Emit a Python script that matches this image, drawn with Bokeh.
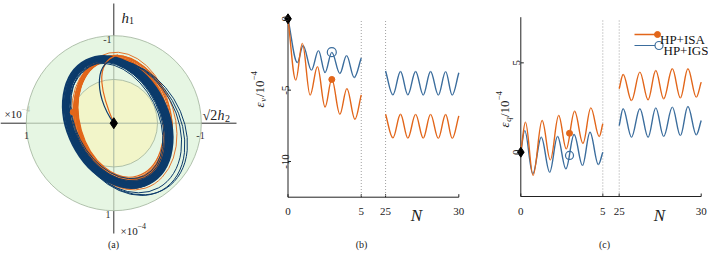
import numpy as np
from bokeh.plotting import figure
from bokeh.layouts import row
from bokeh.models import Label, Range1d
from bokeh.embed import file_html
from bokeh.resources import INLINE

FONT = "Liberation Serif"
ORANGE = "#e2661a"
BLUE = "#3b6d9d"
NAVY = "#0c3b6b"
OUTER_FILL = "#e6f6e3"
INNER_FILL = "#f2f5c9"
RING_LINE = "#9fb39b"
INK = "#222222"

# ---------------- panel (a): trajectories in (sqrt2 h2, h1) plane, units 1e-4 ----------------
ring_radii = [1.0, 0.5]
# HP+IGS loops (navy): centre, semi-axes, tilt (deg)
igs_cx = [0.04, 0.04, 0.045, 0.04, 0.045, 0.04, 0.045, 0.05, 0.045, 0.035, 0.04, 0.12, 0.14, 0.16]
igs_cy = [0.02, 0.02, 0.015, 0.02, 0.015, 0.02, 0.015, 0.01, 0.015, 0.025, 0.02, -0.03, -0.045, -0.05]
igs_a = [0.73, 0.74, 0.745, 0.75, 0.76, 0.765, 0.77, 0.78, 0.79, 0.70, 0.715, 0.81, 0.83, 0.82]
igs_b = [0.50, 0.51, 0.515, 0.52, 0.53, 0.54, 0.55, 0.56, 0.575, 0.47, 0.485, 0.60, 0.61, 0.62]
igs_ang = [-63, -64, -63, -64, -63, -64, -63, -64, -63, -63, -64, -61, -60, -58]
igs_lw = [2.2, 2.2, 2.2, 2.2, 2.2, 2.2, 2.2, 2.2, 2.2, 1.0, 1.0, 1.0, 1.0, 1.0]
# HP+ISA loops (orange)
isa_cx = [0.08, 0.085, 0.09, 0.085, 0.09, 0.095, 0.09, 0.095, 0.10, 0.09, 0.10, 0.105, 0.11, 0.12]
isa_cy = [0.05, 0.045, 0.04, 0.045, 0.04, 0.035, 0.04, 0.035, 0.03, 0.04, 0.03, 0.025, 0.03, 0.0]
isa_a = [0.68, 0.69, 0.70, 0.705, 0.71, 0.715, 0.72, 0.725, 0.73, 0.74, 0.75, 0.76, 0.79, 0.78]
isa_b = [0.47, 0.48, 0.49, 0.495, 0.50, 0.505, 0.51, 0.515, 0.52, 0.53, 0.54, 0.55, 0.55, 0.58]
isa_ang = [-74, -74, -75, -75, -75, -76, -75, -76, -75, -76, -77, -76, -78, -72]
isa_lw = [1.2, 1.2, 1.2, 1.2, 1.2, 1.2, 1.2, 1.2, 1.2, 1.2, 1.2, 1.1, 0.9, 0.9]
# initial transients from the origin: start, control 1, control 2, end
igs_start = [(0.0, 0.0), (-0.25, 0.35), (-0.20, 0.75), (0.04, 0.72)]
isa_start = [(0.0, 0.0), (-0.12, 0.28), (-0.26, 0.70), (0.05, 0.78)]
isa_mark_a = (-0.464, 0.126)

# ---------------- panel (b): eps_v / 1e-4 ----------------
b_isa_N1 = [0, 0.53, 0.98, 1.51, 2.01, 2.53, 2.99, 3.54, 4.02, 4.57, 5.0]
b_isa_E1 = [0, -4.30, -1.72, -5.35, -3.36, -6.18, -4.23, -6.69, -4.89, -7.04, -5.33]
b_igs_N1 = [0, 0.64, 1.03, 1.60, 2.08, 2.53, 2.99, 3.54, 4.00, 4.52, 5.0]
b_igs_E1 = [0, -3.06, -1.88, -3.60, -2.23, -3.76, -2.35, -3.83, -2.58, -4.11, -2.75]
b_N2 = [25, 25.50, 26.02, 26.52, 27.05, 27.57, 28.07, 28.60, 29.10, 29.55, 30]
b_isa_E2 = [-6.69, -8.34, -6.69, -8.36, -6.70, -8.36, -6.70, -8.38, -6.71, -8.38, -6.80]
b_igs_E2 = [-3.66, -5.33, -3.69, -5.33, -3.69, -5.34, -3.69, -5.34, -3.70, -5.34, -3.78]
b_marks = {"isa": (2.99, -4.25), "igs": (2.99, -2.34)}
b_yticks = [0, -5, -10]
b_xticks = [0, 5, 25, 30]

# ---------------- panel (c): eps_q / 1e-4 ----------------
c_isa_N1 = [0, 0.285, 0.75, 1.30, 1.80, 2.31, 2.77, 3.28, 3.79, 4.27, 4.78, 5.0]
c_isa_E1 = [0, 1.68, -1.30, 1.77, -0.43, 2.05, 0.19, 2.29, 0.50, 2.48, 0.88, 1.59]
c_igs_N1 = [0, 0.24, 0.73, 1.25, 1.76, 2.24, 2.75, 3.25, 3.76, 4.22, 4.73, 5.0]
c_igs_E1 = [0, 1.21, -1.21, 0.84, -1.12, 0.88, -0.93, 0.99, -0.74, 1.12, -0.69, 0.0]
c_N2 = [25, 25.24, 25.75, 26.26, 26.76, 27.23, 27.71, 28.24, 28.73, 29.19, 29.70, 30]
c_isa_E2 = [3.55, 4.35, 2.89, 4.48, 2.93, 4.57, 2.99, 4.67, 3.04, 4.67, 3.08, 3.92]
c_igs_E2 = [1.49, 2.43, 0.84, 2.43, 0.84, 2.48, 0.88, 2.52, 0.93, 2.56, 0.97, 1.77]
c_marks = {"isa": (2.97, 1.06), "igs": (2.97, -0.18)}
c_yticks = [0, 5]
c_xticks = [0, 5, 25, 30]

GAP_B = 1.66
GAP_C = 1.0


def brk(N, gap):
    N = np.asarray(N, dtype=float)
    return np.where(N <= 5, N, N - 25 + 5 + gap)


def wave(p, xs, ys, color, lw=1.4):
    x = np.asarray(xs, float)
    y = np.asarray(ys, float)
    x0, y0, x1, y1 = x[:-1], y[:-1], x[1:], y[1:]
    dx = x1 - x0
    k = 0.363
    cx0, cx1 = x0 + k * dx, x1 - k * dx
    cy0, cy1 = y0.copy(), y1.copy()
    cy0[0] = y0[0] + k * (y1[0] - y0[0])
    cy1[-1] = y1[-1] - k * (y1[-1] - y0[-1])
    p.bezier(x0=x0, y0=y0, x1=x1, y1=y1, cx0=cx0, cy0=cy0, cx1=cx1, cy1=cy1,
             line_color=color, line_width=lw)


def place(p, conv, gx, gy, text, size, italic=False, color=INK, angle=0.0, align="left"):
    x, y = conv(gx, gy)
    p.add_layout(Label(x=x, y=y, text=text, text_font=FONT, text_font_size=f"{size}px",
                       text_font_style="italic" if italic else "normal", text_color=color,
                       angle=angle, text_align=align, text_baseline="alphabetic"))


def hlabel(p, conv, gx, gy, parts):
    for text, size, dy, italic, adv, color in parts:
        place(p, conv, gx, gy + dy, text, size, italic, color)
        gx += adv


def vlabel(p, conv, gx, gy, parts):
    for text, size, dx, italic, adv in parts:
        place(p, conv, gx + dx, gy, text, size, italic, angle=np.pi / 2)
        gy -= adv


def canvas(conv, gx0, gx1):
    xa, ya = conv(gx0, 253)
    xb, yb = conv(gx1, 0)
    p = figure(width=int(round(gx1 - gx0)), height=253, x_range=Range1d(xa, xb),
               y_range=Range1d(ya, yb), output_backend="svg", toolbar_location=None,
               x_axis_type=None, y_axis_type=None, min_border=0, frame_align=False,
               background_fill_color="white", border_fill_color="white")
    p.grid.visible = False
    p.outline_line_color = None
    return p


# ======================= panel (a) =======================
CXA, CYA, SA = 113.3, 122.7, 87.5


def conv_a(gx, gy):
    return (gx - CXA) / SA, (CYA - gy) / SA


pa = canvas(conv_a, 0, 240)
_, vt = conv_a(CXA, 3)
_, vb = conv_a(CXA, 233)
hl, _ = conv_a(0, CYA)
hr, _ = conv_a(236, CYA)
pa.segment(x0=[0, hl], y0=[vt, 0], x1=[0, hr], y1=[vb, 0], line_color="#2b2b2b", line_width=1)
R = ring_radii[0]
pa.circle(x=[0, 0], y=[0, 0], radius=ring_radii, fill_color=[OUTER_FILL, INNER_FILL],
          line_color=RING_LINE, line_width=0.8)
pa.segment(x0=[0, -R], y0=[R, 0], x1=[0, R], y1=[-R, 0], line_color="#a5b6a1", line_width=1)

pa.ellipse(x=isa_cx, y=isa_cy, width=[2 * v for v in isa_a], height=[2 * v for v in isa_b],
           angle=[np.deg2rad(v) for v in isa_ang], fill_color=None, line_color=ORANGE,
           line_width=isa_lw)
pa.ellipse(x=igs_cx, y=igs_cy, width=[2 * v for v in igs_a], height=[2 * v for v in igs_b],
           angle=[np.deg2rad(v) for v in igs_ang], fill_color=None, line_color=NAVY,
           line_width=igs_lw)
for pts, col in ((isa_start, ORANGE), (igs_start, NAVY)):
    (x0, y0), (c0x, c0y), (c1x, c1y), (x1, y1) = pts
    pa.bezier(x0=[x0], y0=[y0], x1=[x1], y1=[y1], cx0=[c0x], cy0=[c0y], cx1=[c1x], cy1=[c1y],
              line_color=col, line_width=1.2)
pa.scatter(x=[isa_mark_a[0]], y=[isa_mark_a[1]], size=6, marker="circle", fill_color=ORANGE,
           line_color=ORANGE)
pa.scatter(x=[0], y=[0], size=11, marker="diamond", fill_color="black", line_color="black")

hlabel(pa, conv_a, 121, 17, [("h", 15, 0, True, 7.5, INK), ("1", 10, 3, False, 5, INK)])
hlabel(pa, conv_a, 202, 115, [("√2", 14, 0, False, 15, INK), ("h", 14, 0, True, 7.5, INK),
                               ("2", 10, 3, False, 5, INK)])
hlabel(pa, conv_a, 4, 113, [("×10", 11, 0, False, 17, INK), ("−4", 8, -5, False, 8, "#b4c2b1")])
hlabel(pa, conv_a, 120, 230, [("×10", 11, 0, False, 17, INK), ("−4", 8, -5, False, 8, INK)])
place(pa, conv_a, 111, 39, "-1", 10, color="#333", align="right")
place(pa, conv_a, 110, 214, "1", 10, color="#333", align="right")
place(pa, conv_a, 26, 135, "1", 10, color="#333", align="center")
place(pa, conv_a, 200, 135, "-1", 10, color="#333", align="center")
place(pa, conv_a, 113, 244, "(a)", 10, align="center")


def axes(p, conv, sx, sy, gtop, gbot, xpos, xlabels, yticks, ylab_gx):
    _, ytop = conv(0, gtop)
    _, ybot = conv(0, gbot)
    xend = float(np.max(xpos))
    p.segment(x0=[0, 0], y0=[ytop, ybot], x1=[0, xend], y1=[ybot, ybot],
              line_color=INK, line_width=1)
    p.segment(x0=[0] * len(yticks), y0=yticks, x1=[3 / sx] * len(yticks), y1=yticks,
              line_color=INK, line_width=1)
    p.segment(x0=xpos, y0=[ybot] * len(xpos), x1=xpos, y1=[ybot + 3 / sy] * len(xpos),
              line_color=INK, line_width=1)
    _, ylab = conv(0, 210.5)
    for xp, t in zip(xpos, xlabels):
        p.add_layout(Label(x=xp, y=ylab, text=t, text_font=FONT, text_font_size="11px",
                           text_color=INK, text_align="center", text_baseline="alphabetic"))
    xl, _ = conv(ylab_gx, 0)
    for t in yticks:
        p.add_layout(Label(x=xl, y=t, text=str(t), text_font=FONT, text_font_size="11px",
                           text_color=INK, text_align="center", text_baseline="alphabetic",
                           angle=np.pi / 2))
    return ybot


def dotted(p, conv, xs, gtop, ybot):
    _, yt = conv(0, gtop)
    p.segment(x0=xs, x1=xs, y0=[yt] * len(xs), y1=[ybot] * len(xs),
              line_color="#a0a0a0", line_width=1, line_dash="1 2")


# ======================= panel (b) =======================
X0B, SXB, Y0B, SYB = 287.5, 14.65, 18.3, 14.27


def conv_b(gx, gy):
    return (gx - X0B) / SXB, (Y0B - gy) / SYB


pb = canvas(conv_b, 240, 470)
ybot_b = axes(pb, conv_b, SXB, SYB, 15, 196.7, brk(b_xticks, GAP_B), [str(v) for v in b_xticks],
              b_yticks, 284.5)
dotted(pb, conv_b, [5, 5 + GAP_B], 20.5, ybot_b)
wave(pb, brk(b_igs_N1, GAP_B), b_igs_E1, BLUE)
wave(pb, brk(b_isa_N1, GAP_B), b_isa_E1, ORANGE)
wave(pb, brk(b_N2, GAP_B), b_igs_E2, BLUE)
wave(pb, brk(b_N2, GAP_B), b_isa_E2, ORANGE)
pb.scatter(x=[b_marks["isa"][0]], y=[b_marks["isa"][1]], size=6, marker="circle",
           fill_color=ORANGE, line_color=ORANGE)
pb.scatter(x=[b_marks["igs"][0]], y=[b_marks["igs"][1]], size=9, marker="circle",
           fill_color=None, line_color=BLUE, line_width=1.2)
pb.scatter(x=[0], y=[0], size=10, marker="diamond", fill_color="black", line_color="black")
vlabel(pb, conv_b, 259, 107, [("ε", 13, 0, True, 5.8), ("v", 9, 3, True, 4.6),
                              ("/10", 13, 0, False, 16.5), ("−4", 9, -5.5, False, 9)])
place(pb, conv_b, 416, 215, "N", 17, italic=True, align="center")
place(pb, conv_b, 361, 244, "(b)", 10, align="center")

# ======================= panel (c) =======================
X0C, SXC, Y0C, SYC = 520.3, 16.4, 151.7, 17.87


def conv_c(gx, gy):
    return (gx - X0C) / SXC, (Y0C - gy) / SYC


pc = canvas(conv_c, 470, 708)
ybot_c = axes(pc, conv_c, SXC, SYC, 16.7, 196, brk(c_xticks, GAP_C), [str(v) for v in c_xticks],
              c_yticks, 516)
dotted(pc, conv_c, [5, 5 + GAP_C], 20, ybot_c)
wave(pc, brk(c_igs_N1, GAP_C), c_igs_E1, BLUE)
wave(pc, brk(c_isa_N1, GAP_C), c_isa_E1, ORANGE)
wave(pc, brk(c_N2, GAP_C), c_igs_E2, BLUE)
wave(pc, brk(c_N2, GAP_C), c_isa_E2, ORANGE)
pc.scatter(x=[c_marks["isa"][0]], y=[c_marks["isa"][1]], size=6, marker="circle",
           fill_color=ORANGE, line_color=ORANGE)
pc.scatter(x=[c_marks["igs"][0]], y=[c_marks["igs"][1]], size=8, marker="circle",
           fill_color=None, line_color=BLUE, line_width=1.2)
pc.scatter(x=[0], y=[0], size=10, marker="diamond", fill_color="black", line_color="black")
vlabel(pc, conv_c, 504, 127, [("ε", 13, 0, True, 5.8), ("q", 9, 3, True, 4.6),
                              ("/10", 13, 0, False, 16.5), ("−4", 9, -5.5, False, 9)])
place(pc, conv_c, 659, 215, "N", 17, italic=True, align="center")
place(pc, conv_c, 604, 244, "(c)", 10, align="center")

# legend (drawn by hand: line with marker at its end)
lx0, ly0 = conv_c(634, 34)
lx1, _ = conv_c(657, 34)
pc.segment(x0=[lx0], y0=[ly0], x1=[lx1], y1=[ly0], line_color=ORANGE, line_width=1.4)
pc.scatter(x=[lx1], y=[ly0], size=6, marker="circle", fill_color=ORANGE, line_color=ORANGE)
place(pc, conv_c, 659.5, 38.5, "HP+ISA", 13, color="#111")
mx0, my0 = conv_c(634, 45)
mx1, _ = conv_c(654.5, 45)
mxc, _ = conv_c(658.5, 45)
pc.segment(x0=[mx0], y0=[my0], x1=[mx1], y1=[my0], line_color=BLUE, line_width=1.2)
pc.scatter(x=[mxc], y=[my0], size=8, marker="circle", fill_color=None, line_color=BLUE,
           line_width=1.2)
place(pc, conv_c, 663, 49.5, "HP+IGS", 13, color="#111")

layout = row(pa, pb, pc)
open("out.html", "w").write(file_html(layout, INLINE))
